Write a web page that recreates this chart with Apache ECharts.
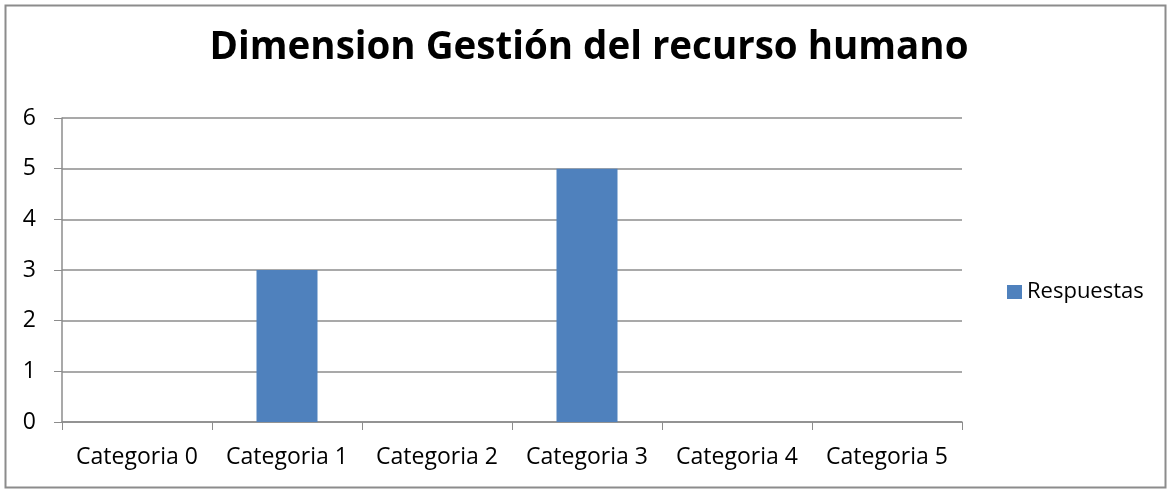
<!DOCTYPE html>
<html>
<head>
<meta charset="utf-8">
<script src="https://cdn.jsdelivr.net/npm/echarts@6/dist/echarts.min.js"></script>
<style>
  html, body { margin: 0; padding: 0; background: #fff; }
  #container { width: 1167px; height: 489px; }
</style>
</head>
<body>
<div id="container"></div>
<script>
var categories = ['Categoria 0', 'Categoria 1', 'Categoria 2', 'Categoria 3', 'Categoria 4', 'Categoria 5'];
var respuestas = [0, 3, 0, 5, 0, 0];
var titleText = 'Dimension Gestión del recurso humano';
var seriesName = 'Respuestas';

var dom = document.getElementById('container');
var myChart = echarts.init(dom);
var axisGray = '#8c8c8c';
var font = 'Open Sans, Liberation Sans, Arial, sans-serif';

var option = {
    animation: false,
    textStyle: { fontFamily: font },
    graphic: [{
        type: 'rect',
        shape: { x: 5.5, y: 5.5, width: 1160, height: 482 },
        style: { fill: 'none', stroke: '#8c8c8c', lineWidth: 2 },
        silent: true
    }],
    title: {
        text: titleText,
        left: 584,
        textAlign: 'center',
        top: 24,
        textStyle: { fontSize: 38.5, fontWeight: 'bold', color: '#000', fontFamily: font }
    },
    legend: {
        data: [seriesName],
        orient: 'vertical',
        left: 1002,
        top: 276,
        icon: 'rect',
        itemWidth: 15,
        itemHeight: 14,
        itemGap: 8,
        textStyle: { fontSize: 22, color: '#000', fontFamily: font }
    },
    grid: {
        left: 62,
        right: 205,
        top: 118,
        bottom: 67,
        containLabel: false
    },
    xAxis: {
        type: 'category',
        data: categories,
        axisLine: { lineStyle: { color: axisGray, width: 1.5 } },
        axisTick: { show: true, length: 8, alignWithLabel: false, lineStyle: { color: axisGray } },
        axisLabel: { fontSize: 23, color: '#000', margin: 24, fontFamily: font, interval: 0 }
    },
    yAxis: {
        type: 'value',
        min: 0,
        max: 6,
        interval: 1,
        axisLine: { show: true, lineStyle: { color: axisGray, width: 1.5 } },
        axisTick: { show: true, length: 8, lineStyle: { color: axisGray } },
        axisLabel: { fontSize: 23, color: '#000', margin: 26, fontFamily: font },
        splitLine: { show: true, lineStyle: { color: axisGray, width: 1.5 } }
    },
    series: [{
        name: seriesName,
        type: 'bar',
        data: respuestas,
        barWidth: 61,
        itemStyle: { color: '#4f81bd' }
    }]
};

myChart.setOption(option);
</script>
</body>
</html>
